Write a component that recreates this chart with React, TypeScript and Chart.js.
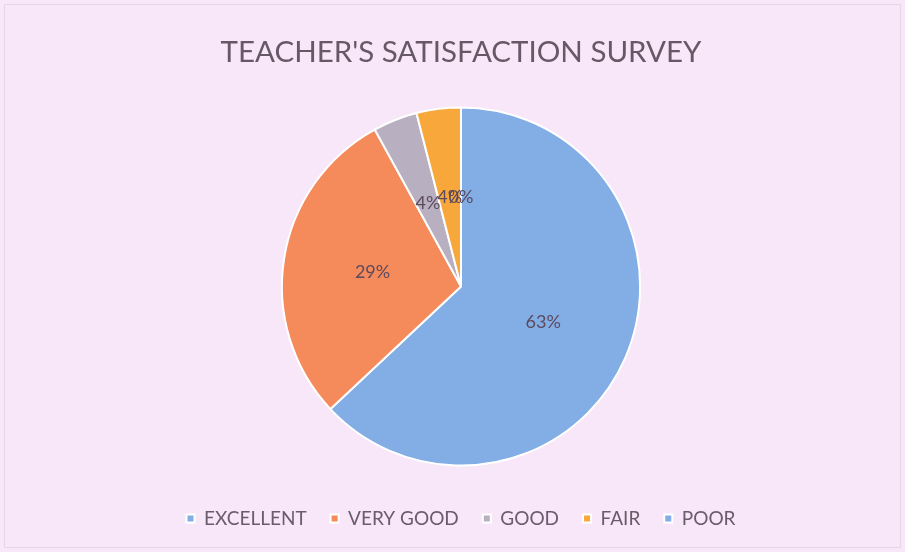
import React, { useEffect, useRef } from "react";
import { Chart, registerables } from "chart.js";

Chart.register(...registerables);

const categories = ["EXCELLENT", "VERY GOOD", "GOOD", "FAIR", "POOR"];
const values = [63, 29, 4, 4, 0];
const pctLabels = ["63%", "29%", "4%", "4%", "0%"];
const colors = ["#82ade5", "#f58a5b", "#b8afc0", "#f8a83b", "#82ade5"];
const titleText = "TEACHER'S SATISFACTION SURVEY";

const bgPlugin = {
  id: "bgPlugin",
  beforeDraw(chart: any) {
    const { ctx, width, height } = chart;
    ctx.save();
    ctx.fillStyle = "#f8e7f8";
    ctx.fillRect(0, 0, width, height);
    ctx.strokeStyle = "#e6d6e6";
    ctx.lineWidth = 1;
    ctx.strokeRect(4.5, 4.5, width - 9, height - 9);
    ctx.restore();
  },
};

const labelPlugin = {
  id: "labelPlugin",
  afterDatasetsDraw(chart: any) {
    const { ctx } = chart;
    const meta = chart.getDatasetMeta(0);
    ctx.save();
    ctx.font = "18px Lato, 'Open Sans', sans-serif";
    ctx.fillStyle = "#5c4a5e";
    ctx.textAlign = "center";
    ctx.textBaseline = "middle";
    meta.data.forEach((arc: any, i: number) => {
      const p = arc.tooltipPosition();
      ctx.fillText(pctLabels[i], p.x, p.y);
    });
    ctx.restore();
  },
};

export default function App() {
  const ref = useRef<HTMLCanvasElement | null>(null);
  useEffect(() => {
    if (!ref.current) return;
    const chart = new Chart(ref.current, {
      type: "pie",
      data: {
        labels: categories,
        datasets: [
          {
            data: values,
            backgroundColor: colors,
            borderColor: "#ffffff",
            borderWidth: 2,
          },
        ],
      },
      options: {
        animation: false,
        responsive: false,
        layout: { padding: { left: 17, right: 0, top: 0, bottom: 14 } },
        plugins: {
          title: {
            display: true,
            text: titleText,
            color: "#665867",
            font: { family: "Lato, 'Open Sans', sans-serif", size: 29.5, weight: "normal" },
            padding: { top: 35, bottom: 36 },
          },
          legend: {
            position: "bottom",
            title: {
              display: true,
              text: " ",
              font: { size: 2 },
              padding: 8,
            },
            labels: {
              color: "#6a5c6c",
              font: { family: "Lato, 'Open Sans', sans-serif", size: 19 },
              boxWidth: 8,
              boxHeight: 8,
              padding: 24,
            },
          },
          tooltip: { enabled: false },
        },
      },
      plugins: [bgPlugin, labelPlugin],
    });
    return () => chart.destroy();
  }, []);
  return (
    <div style={{ position: "fixed", left: 0, top: 0, width: 905, height: 552 }}>
      <canvas ref={ref} width={905} height={552} style={{ display: "block" }} />
    </div>
  );
}
